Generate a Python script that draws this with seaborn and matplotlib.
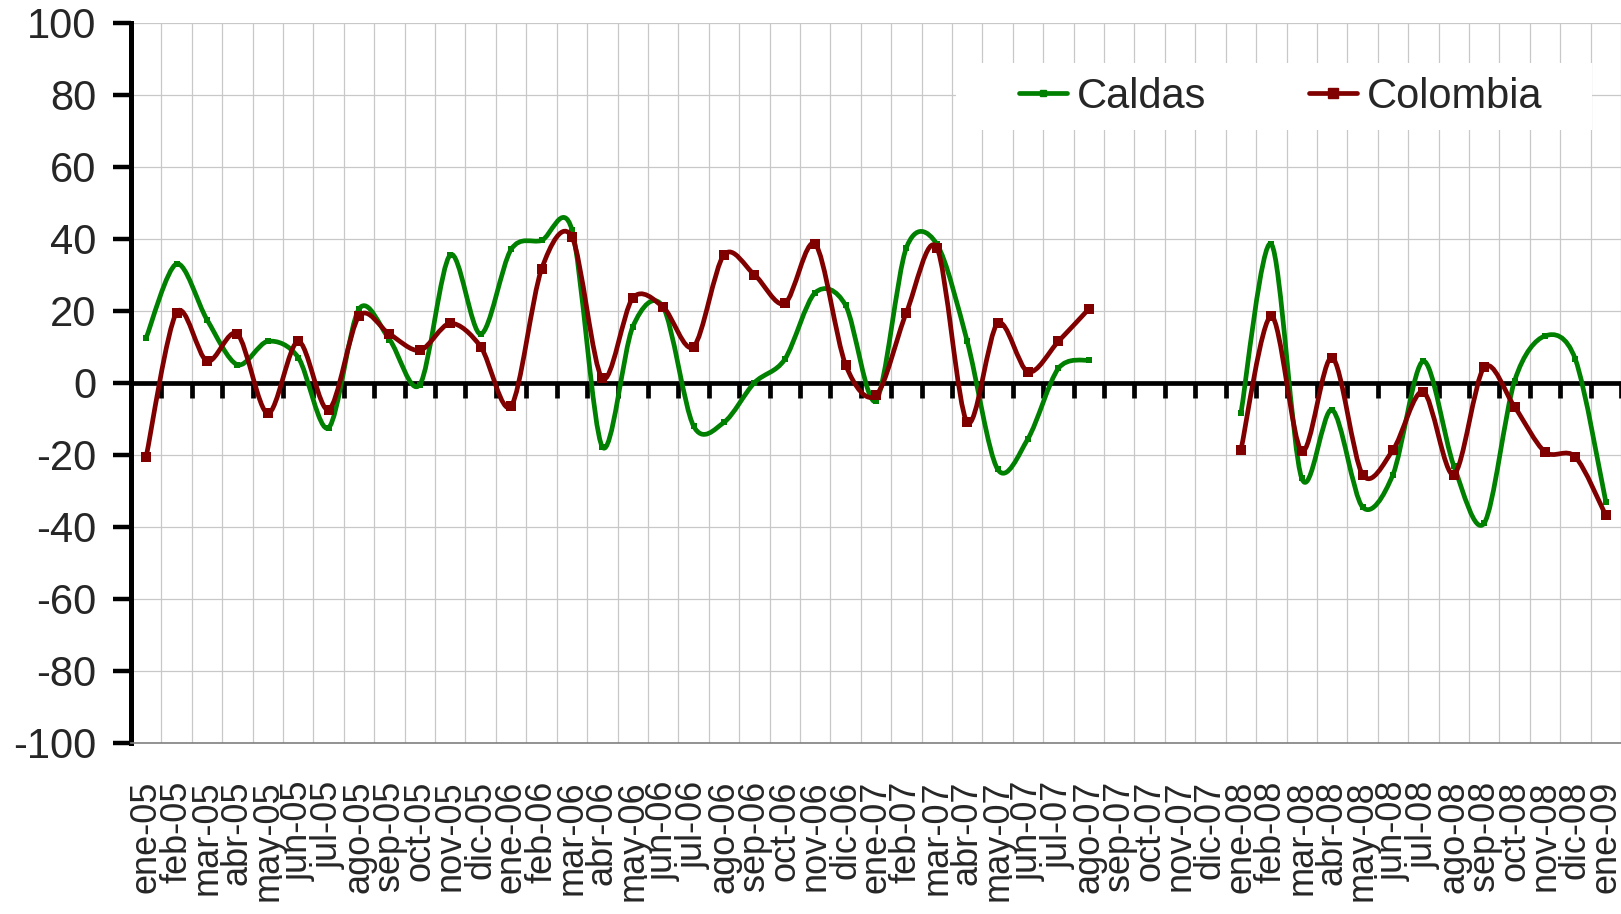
import numpy as np
import pandas as pd
import seaborn as sns
import matplotlib.pyplot as plt
from matplotlib.path import Path
from matplotlib.patches import PathPatch, Rectangle
from matplotlib.lines import Line2D

# categorias (meses ene-05 .. ene-09)
meses = ["ene", "feb", "mar", "abr", "may", "jun", "jul", "ago", "sep", "oct", "nov", "dic"]
etiquetas = [f"{m}-{a:02d}" for a in (5, 6, 7, 8) for m in meses] + ["ene-09"]

nan = np.nan
caldas = [12.5, 33, 17.5, 5, 11.5, 7, -12.5, 20.5, 12, -0.5, 35.5, 13.5,
          37, 39.5, 42.5, -17.8, 15.5, 21, -12, -11, 0, 6.5, 25, 21.5,
          -5, 37.5, 38.5, 11.5, -24, -15.5, 4, 6.3, nan, nan, nan, nan,
          -8.5, 38.5, -26.5, -7.5, -34.5, -25.5, 6, -23, -39, 0.5, 13, 6.5,
          -33]
colombia = [-20.5, 19.5, 6, 13.5, -8.5, 11.5, -7.5, 18.5, 13.5, 9, 16.5, 10,
            -6.5, 31.5, 40.5, 1.2, 23.5, 21, 10, 35.5, 30, 22, 38.5, 5,
            -3.5, 19.5, 37.5, -11, 16.5, 3, 11.5, 20.5, nan, nan, nan, nan,
            -18.7, 18.5, -19, 7, -25.5, -18.7, -2.5, -25.5, 4.3, -6.7, -19.2, -20.6,
            -36.8]

series = ["Caldas", "Colombia"]
colores = {"Caldas": "#008000", "Colombia": "#800000"}
tam_marca = {"Caldas": 3.8, "Colombia": 7.4}

sns.set_style("white")
plt.rcParams["font.family"] = ["Liberation Sans", "DejaVu Sans"]
plt.rcParams["axes.unicode_minus"] = False

df = pd.DataFrame({"mes": etiquetas, "Caldas": caldas, "Colombia": colombia})
df["pos"] = np.arange(len(df))
largo = df.melt(id_vars=["mes", "pos"], value_vars=series,
                var_name="serie", value_name="valor").dropna()


def curva(x, y, f=1 / 6.5):
    # linea suavizada (bezier, como en excel)
    verts, codes = [(x[0], y[0])], [Path.MOVETO]
    n = len(x)
    for i in range(n - 1):
        xa, ya = (x[i - 1], y[i - 1]) if i > 0 else (x[i], y[i])
        xb, yb = (x[i + 2], y[i + 2]) if i + 2 < n else (x[i + 1], y[i + 1])
        c1 = (x[i] + (x[i + 1] - xa) * f, y[i] + (y[i + 1] - ya) * f)
        c2 = (x[i + 1] - (xb - x[i]) * f, y[i + 1] - (yb - y[i]) * f)
        verts += [c1, c2, (x[i + 1], y[i + 1])]
        codes += [Path.CURVE4] * 3
    return Path(verts, codes)


fig = plt.figure(figsize=(16.21, 9.14), dpi=100)
ax = fig.add_axes([131 / 1621, 1 - 743 / 914, 1490 / 1621, 720.5 / 914])

for k, serie in enumerate(series):
    d = largo[largo.serie == serie]
    tramo = (d.pos.diff() != 1).cumsum()
    for _, t in d.groupby(tramo):
        ax.add_patch(PathPatch(curva(t.pos.values, t.valor.values), fill=False,
                               edgecolor=colores[serie], lw=3.4, capstyle="round",
                               joinstyle="round", zorder=2 + 2 * k))
    sns.scatterplot(data=d, x="pos", y="valor", color=colores[serie], marker="s",
                    s=tam_marca[serie] ** 2, linewidth=0, legend=False, ax=ax,
                    zorder=3 + 2 * k)

ax.set_xlim(-0.5, len(etiquetas) - 0.5)
ax.set_ylim(-100, 100)
ax.set_xlabel("")
ax.set_ylabel("")

ax.set_xticks(range(len(etiquetas)))
ax.set_xticklabels(etiquetas, rotation=90, fontsize=26, va="top", ha="center")
ax.set_xticks(np.arange(-0.5, len(etiquetas)), minor=True)
ax.tick_params(axis="x", which="both", length=0, pad=27)
ax.set_yticks(range(-100, 101, 20))
ax.tick_params(axis="y", left=True, direction="out", length=13, width=3.2,
               pad=12, labelsize=30, color="black")

ax.grid(axis="y", which="major", color="#c8c8c8", lw=0.9)
ax.grid(axis="x", which="minor", color="#c8c8c8", lw=0.9)

for lado in ("top", "right"):
    ax.spines[lado].set_visible(False)
ax.spines["left"].set_linewidth(3.6)
ax.spines["left"].set_color("black")
ax.spines["bottom"].set_linewidth(1.2)
ax.spines["bottom"].set_color("#808080")

# eje en cero con sus marcas
eje0 = ax.secondary_xaxis(0.5)
eje0.set_alignment("bottom")
eje0.set_xticks(np.arange(-0.5, len(etiquetas)))
eje0.tick_params(axis="x", direction="out", length=11, width=3.4, color="black",
                 labelbottom=False, labeltop=False)
for lado in ("top", "bottom"):
    eje0.spines[lado].set_linewidth(3.4)
    eje0.spines[lado].set_color("black")
eje0.set_zorder(1.5)

# leyenda
ax.add_patch(Rectangle((0.554, 0.851), 0.4265, 0.093, transform=ax.transAxes,
                       facecolor="white", edgecolor="none", zorder=1))
manijas = [Line2D([], [], color=colores[s], lw=3.4, marker="s", ms=tam_marca[s])
           for s in series]
ax.legend(manijas, series, ncol=2, loc="center left", bbox_to_anchor=(0.596, 0.897),
          frameon=False, fontsize=30, handlelength=1.15, handletextpad=0.24,
          columnspacing=2.47, borderpad=0, borderaxespad=0)

fig.savefig("out.png", dpi=100)
